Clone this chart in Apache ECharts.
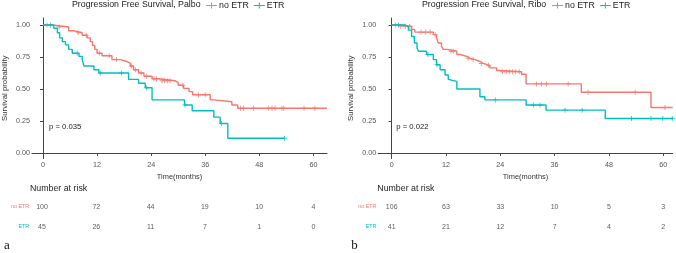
<!DOCTYPE html>
<html>
<head>
<meta charset="utf-8">
<script src="https://cdn.jsdelivr.net/npm/echarts@6/dist/echarts.min.js"></script>
<style>html,body{margin:0;padding:0;background:#fff}#c{width:676px;height:253px}</style>
</head>
<body>
<div id="c"></div>
<script>
// ---- Data ----
var tickMonths = [0, 12, 24, 36, 48, 60];
var tickProb = [0, 0.25, 0.5, 0.75, 1];
var groups = ['no ETR', 'ETR'];

// Palbo: no ETR
var palboNoT = [0, 2.0, 5.7, 6.8, 8.7, 9.8, 10.5, 11.0, 11.5, 12.0, 13.1, 15.3, 17.2, 18.6, 19.4, 20.1, 21.2, 22.4, 24.2, 25.6, 29.3, 30.0, 31.2, 32.4, 33.2, 37.1, 37.9, 41.9, 43.2, 63.0];
var palboNoS = [1, 0.985, 0.955, 0.94, 0.92, 0.90, 0.87, 0.84, 0.81, 0.78, 0.76, 0.73, 0.715, 0.70, 0.68, 0.65, 0.625, 0.60, 0.58, 0.565, 0.55, 0.53, 0.505, 0.48, 0.455, 0.415, 0.40, 0.375, 0.35, 0.35];
var palboNoCens = [0.9, 3.6, 7.8, 9.6, 12.5, 14.7, 16.3, 19.6, 20.5, 21.8, 23.0, 24.6, 25.2, 26.4, 27.0, 27.6, 28.2, 31.0, 34.5, 36.0, 43.8, 44.5, 46.7, 50.0, 50.8, 51.5, 53.0, 53.4, 57.9, 60.3];
// Palbo: ETR
var palboEtT = [0, 2.4, 3.2, 3.7, 4.3, 5.0, 5.7, 6.5, 8.0, 8.7, 9.1, 11.3, 12.4, 19.0, 21.2, 22.7, 24.2, 31.4, 33.1, 37.9, 39.3, 41.0, 53.6];
var palboEtS = [1, 0.975, 0.94, 0.90, 0.87, 0.845, 0.81, 0.78, 0.755, 0.73, 0.68, 0.65, 0.625, 0.575, 0.545, 0.51, 0.415, 0.375, 0.33, 0.28, 0.23, 0.115, 0.115];
var palboEtCens = [1.7, 7.6, 12.7, 17.4, 23.0, 31.5, 39.6, 53.6];

// Ribo: no ETR
var riboNoT = [0, 1.8, 4.4, 5.1, 9.2, 9.9, 10.3, 11.0, 11.4, 12.2, 14.4, 15.1, 16.6, 17.3, 18.4, 19.5, 20.2, 21.7, 23.2, 23.9, 28.7, 29.7, 41.9, 57.3, 62.1];
var riboNoS = [1, 0.99, 0.965, 0.945, 0.925, 0.90, 0.86, 0.835, 0.81, 0.795, 0.77, 0.755, 0.74, 0.73, 0.715, 0.70, 0.685, 0.665, 0.645, 0.635, 0.615, 0.54, 0.475, 0.355, 0.355];
var riboNoCens = [0.8, 2.0, 3.0, 4.0, 6.5, 7.5, 8.5, 9.6, 13.1, 13.6, 16.9, 18.0, 19.8, 21.4, 24.5, 25.3, 26.0, 26.7, 27.4, 28.2, 32.0, 33.1, 34.2, 39.0, 43.4, 53.8, 60.4];
// Ribo: ETR
var riboEtT = [0, 2.9, 3.7, 4.4, 5.0, 5.6, 5.9, 7.7, 9.2, 9.9, 10.7, 11.8, 12.5, 12.9, 14.4, 19.5, 20.6, 29.7, 34.1, 47.2, 62.1];
var riboEtS = [1, 0.985, 0.96, 0.91, 0.86, 0.82, 0.795, 0.77, 0.73, 0.69, 0.65, 0.61, 0.575, 0.56, 0.50, 0.44, 0.415, 0.375, 0.335, 0.27, 0.27];
var riboEtCens = [1.5, 8.0, 10.0, 22.9, 31.3, 32.8, 38.3, 42.1, 53.0, 57.3, 59.9, 62.0];

// Numbers at risk
var palboRiskNo = [100, 72, 44, 19, 10, 4];
var palboRiskEt = [45, 26, 11, 7, 1, 0];
var riboRiskNo = [106, 63, 33, 10, 5, 3];
var riboRiskEt = [41, 21, 12, 7, 4, 2];

var titles = ['Progression Free Survival, Palbo', 'Progression Free Survival, Ribo'];
var pValues = ['p = 0.035', 'p = 0.022'];
var panelLetters = ['a', 'b'];

// ---- Styling / build ----
var RED = '#F8766D', CYAN = '#00BFC4';
var FONT = 'Liberation Sans';
var PLUS = 'path://M-0.18,-1H0.18V-0.18H1V0.18H0.18V1H-0.18V0.18H-1V-0.18H-0.18Z';
var LEGICON = 'path://M0,3.4H11V4.6H0Z M5,1H6V7H5Z';

function pairs(t, s) { return t.map(function (v, i) { return [v, s[i]]; }); }
function stepAt(t, s, x) { var v = s[0]; for (var i = 0; i < t.length; i++) { if (t[i] <= x) v = s[i]; } return v; }
function cens(t, s, c) { return c.map(function (x) { return [x, stepAt(t, s, x)]; }); }

var panels = [
  { left: 31, width: 296, xmin: -2.43, xmax: 63.0, noT: palboNoT, noS: palboNoS, noC: palboNoCens, etT: palboEtT, etS: palboEtS, etC: palboEtCens, rNo: palboRiskNo, rEt: palboRiskEt, titleLeft: 72, legLeft: 206 },
  { left: 378.3, width: 294.4, xmin: -2.96, xmax: 62.1, noT: riboNoT, noS: riboNoS, noC: riboNoCens, etT: riboEtT, etS: riboEtS, etC: riboEtCens, rNo: riboRiskNo, rEt: riboRiskEt, titleLeft: 422, legLeft: 552 }
];

var option = { animation: false, backgroundColor: '#fff', textStyle: { fontFamily: FONT },
  title: [], legend: [], grid: [], xAxis: [], yAxis: [], series: [], graphic: [] };

panels.forEach(function (p, k) {
  option.title.push({ text: titles[k], left: p.titleLeft, top: 0, padding: 0,
    textStyle: { fontSize: 8.8, fontWeight: 'normal', color: '#222', fontFamily: FONT } });
  option.legend.push({ data: groups.map(function (g) { return { name: g, icon: LEGICON }; }),
    left: p.legLeft, top: 1, padding: 0, itemWidth: 11, itemHeight: 6, itemGap: 5,
    textStyle: { fontSize: 8.8, color: '#222', fontFamily: FONT, padding: [0, 0, 0, -3] } });
  // KM grid
  option.grid.push({ left: p.left, width: p.width, top: 18, height: 140.5 });
  // risk table grid
  option.grid.push({ left: p.left, width: p.width, top: 197, height: 40 });
  var gi = k * 2;
  option.xAxis.push({ type: 'value', gridIndex: gi, min: p.xmin, max: p.xmax,
    splitLine: { show: false },
    axisLine: { show: true, lineStyle: { color: '#444', width: 1 } },
    axisTick: { show: true, length: 3, lineStyle: { color: '#444' }, customValues: tickMonths },
    axisLabel: { fontSize: 7.2, color: '#555', margin: 3, customValues: tickMonths, fontFamily: FONT },
    name: 'Time(months)', nameLocation: 'middle', nameGap: 12,
    nameTextStyle: { fontSize: 7.4, color: '#333', fontFamily: FONT } });
  option.yAxis.push({ type: 'value', gridIndex: gi, min: -0.043, max: 1.055,
    splitLine: { show: false },
    axisLine: { show: true, lineStyle: { color: '#444', width: 1 } },
    axisTick: { show: true, length: 3, lineStyle: { color: '#444' }, customValues: tickProb },
    axisLabel: { fontSize: 7.2, color: '#555', margin: 2, customValues: tickProb, fontFamily: FONT,
      formatter: function (v) { return v.toFixed(2); } },
    name: 'Survival probability', nameLocation: 'middle', nameGap: 23,
    nameTextStyle: { fontSize: 7.8, color: '#333', fontFamily: FONT } });
  // risk axes
  option.xAxis.push({ type: 'value', gridIndex: gi + 1, min: p.xmin, max: p.xmax, show: false });
  option.yAxis.push({ type: 'category', gridIndex: gi + 1, data: groups, inverse: true,
    axisLine: { show: false }, axisTick: { show: false }, splitLine: { show: false },
    axisLabel: { fontSize: 5.3, margin: 2, fontFamily: FONT,
      color: function (v) { return v === 'ETR' ? CYAN : RED; } } });

  var xi = k * 2, yi = k * 2;
  option.series.push({ name: 'no ETR', type: 'line', step: 'end', xAxisIndex: xi, yAxisIndex: yi,
    data: pairs(p.noT, p.noS), showSymbol: false, symbol: 'none', color: RED, lineStyle: { width: 1.4, color: RED } });
  option.series.push({ name: 'ETR', type: 'line', step: 'end', xAxisIndex: xi, yAxisIndex: yi,
    data: pairs(p.etT, p.etS), showSymbol: false, symbol: 'none', color: CYAN, lineStyle: { width: 1.4, color: CYAN } });
  option.series.push({ name: 'cens no ' + k, type: 'scatter', xAxisIndex: xi, yAxisIndex: yi,
    data: cens(p.noT, p.noS, p.noC), symbol: PLUS, symbolSize: 5, itemStyle: { color: RED } });
  option.series.push({ name: 'cens et ' + k, type: 'scatter', xAxisIndex: xi, yAxisIndex: yi,
    data: cens(p.etT, p.etS, p.etC), symbol: PLUS, symbolSize: 5, itemStyle: { color: CYAN } });
  // risk table
  [['no ETR', p.rNo], ['ETR', p.rEt]].forEach(function (row) {
    option.series.push({ name: 'risk ' + row[0] + k, type: 'scatter', xAxisIndex: xi + 1, yAxisIndex: yi + 1,
      symbolSize: 0,
      data: row[1].map(function (n, i) { return [tickMonths[i], row[0], n]; }),
      label: { show: true, position: 'inside', fontSize: 7, color: '#333', fontFamily: FONT,
        formatter: function (d) { return String(d.value[2]); } } });
  });

  option.graphic.push({ type: 'text', left: p.left + 18, top: 123,
    style: { text: pValues[k], fontSize: 7.7, fill: '#222', fontFamily: FONT } });
  option.graphic.push({ type: 'text', left: p.left - 1, top: 184.5,
    style: { text: 'Number at risk', fontSize: 8.8, fill: '#222', fontFamily: FONT } });
  option.graphic.push({ type: 'text', left: p.left - 27, top: 239,
    style: { text: panelLetters[k], fontSize: 13, fill: '#111', fontFamily: 'Liberation Serif' } });
});

var chart = echarts.init(document.getElementById('c'), null, { renderer: 'canvas' });
chart.setOption(option);
</script>
</body>
</html>
